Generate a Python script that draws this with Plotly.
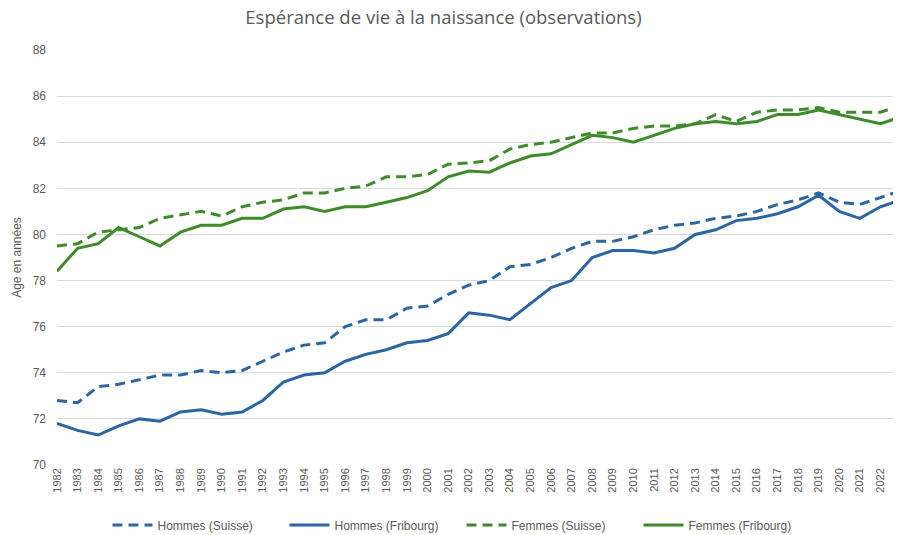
import plotly.graph_objects as go

years = list(range(1982, 2024))
year_labels = [str(y) for y in years]

hommes_suisse = [72.8, 72.7, 73.4, 73.5, 73.7, 73.9, 73.9, 74.1, 74.0, 74.1,
                 74.5, 74.9, 75.2, 75.3, 76.0, 76.3, 76.3, 76.8, 76.9, 77.4,
                 77.8, 78.0, 78.6, 78.7, 79.0, 79.4, 79.7, 79.7, 79.9, 80.2,
                 80.4, 80.5, 80.7, 80.8, 81.0, 81.3, 81.5, 81.8, 81.4, 81.3,
                 81.6, 81.9]
hommes_fribourg = [71.8, 71.5, 71.3, 71.7, 72.0, 71.9, 72.3, 72.4, 72.2, 72.3,
                   72.8, 73.6, 73.9, 74.0, 74.5, 74.8, 75.0, 75.3, 75.4, 75.7,
                   76.6, 76.5, 76.3, 77.0, 77.7, 78.0, 79.0, 79.3, 79.3, 79.2,
                   79.4, 80.0, 80.2, 80.6, 80.7, 80.9, 81.2, 81.7, 81.0, 80.7,
                   81.2, 81.5]
femmes_suisse = [79.5, 79.6, 80.1, 80.2, 80.3, 80.7, 80.85, 81.0, 80.8, 81.2,
                 81.4, 81.5, 81.8, 81.8, 82.0, 82.1, 82.5, 82.5, 82.6, 83.05,
                 83.1, 83.2, 83.7, 83.9, 84.0, 84.2, 84.4, 84.4, 84.6, 84.7,
                 84.7, 84.8, 85.2, 84.9, 85.3, 85.4, 85.4, 85.5, 85.3, 85.3,
                 85.3, 85.6]
femmes_fribourg = [78.4, 79.4, 79.6, 80.3, 79.9, 79.5, 80.1, 80.4, 80.4, 80.7,
                   80.7, 81.1, 81.2, 81.0, 81.2, 81.2, 81.4, 81.6, 81.9, 82.5,
                   82.75, 82.7, 83.1, 83.4, 83.5, 83.9, 84.3, 84.2, 84.0, 84.3,
                   84.6, 84.8, 84.9, 84.8, 84.9, 85.2, 85.2, 85.4, 85.2, 85.0,
                   84.8, 85.1]

series_names = ["Hommes (Suisse)", "Hommes (Fribourg)", "Femmes (Suisse)", "Femmes (Fribourg)"]

BLUE = "#2A65A4"
GREEN = "#3D8B2A"
GREY = "#595959"
DASH = "10px,6px"

# page body has an 8px margin, so the figure is sized to end at the window edge
W, H = 893, 527
PLOT_H = 415

fig = go.Figure()
for name, vals, color, dash in [
    (series_names[0], hommes_suisse, BLUE, DASH),
    (series_names[1], hommes_fribourg, BLUE, "solid"),
    (series_names[2], femmes_suisse, GREEN, DASH),
    (series_names[3], femmes_fribourg, GREEN, "solid"),
]:
    fig.add_trace(go.Scatter(
        x=years, y=vals, name=name, mode="lines",
        line=dict(color=color, width=3, dash=dash),
        hoverinfo="x+y+name", cliponaxis=False,
    ))

fig.update_layout(
    width=W, height=H,
    margin=dict(l=49, r=0, t=42, b=70, autoexpand=False),
    paper_bgcolor="white", plot_bgcolor="white",
    font=dict(family="Liberation Sans, Arial, sans-serif", color=GREY, size=12),
    title=dict(
        text="Espérance de vie à la naissance (observations)",
        x=435.5 / W, xanchor="center", y=1 - 3 / H, yanchor="top",
        font=dict(family="Open Sans, sans-serif", size=18.5, color=GREY),
    ),
    showlegend=True,
    legend=dict(
        orientation="h", xref="container", x=0.5 + 7 / W, xanchor="center",
        y=-60 / PLOT_H, yanchor="middle",
        font=dict(size=12, color=GREY), itemwidth=40,
        entrywidth=122, entrywidthmode="pixels",
    ),
)
fig.update_xaxes(
    range=[1982, 2023], tickmode="array", tickvals=years, ticktext=year_labels,
    tickangle=-90, tickfont=dict(size=11, color=GREY), automargin=False,
    ticklabeloverflow="allow",
    showgrid=False, zeroline=False, showline=False, ticks="",
)
fig.update_yaxes(
    range=[70, 88], dtick=2, tick0=70, automargin=False,
    showgrid=True, gridcolor="#D9D9D9", gridwidth=1,
    zeroline=False, showline=False, ticks="", ticklabelstandoff=10,
    tickfont=dict(size=12, color=GREY),
    title=dict(text="Age en années", font=dict(size=12, color=GREY), standoff=8),
)

fig.write_html("out.html")
